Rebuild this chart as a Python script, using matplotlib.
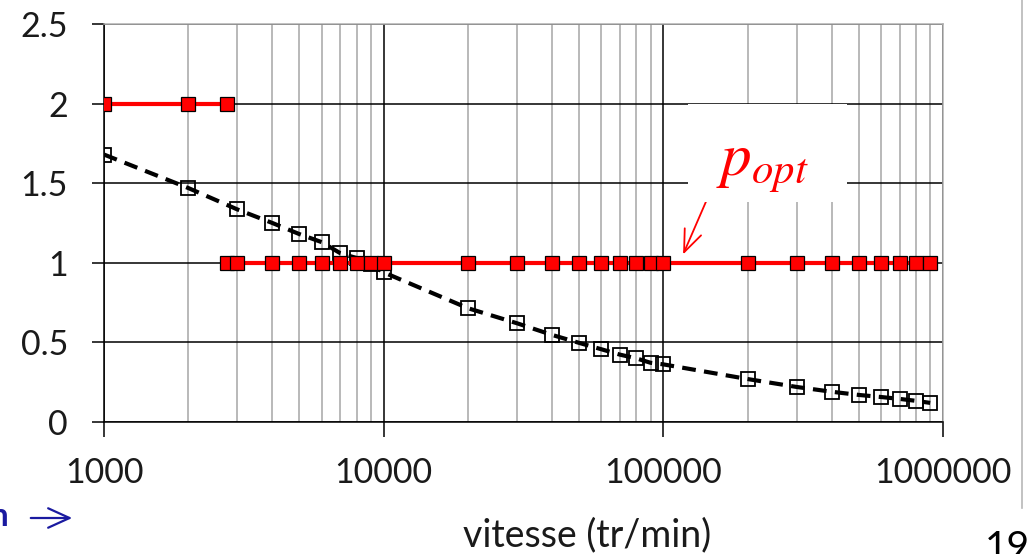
import matplotlib
matplotlib.use("Agg")
import matplotlib.pyplot as plt
from matplotlib.ticker import FixedLocator, NullFormatter, LogLocator
from matplotlib.patches import Rectangle
from matplotlib.lines import Line2D

# data
red_x_high = [1000, 2000, 2750]
red_y_high = [2, 2, 2]
red_x_low = [2750, 3000, 4000, 5000, 6000, 7000, 8000, 9000, 10000,
             20000, 30000, 40000, 50000, 60000, 70000, 80000, 90000, 100000,
             200000, 300000, 400000, 500000, 600000, 700000, 800000, 900000]
red_y_low = [1] * len(red_x_low)

speed = [1000, 2000, 3000, 4000, 5000, 6000, 7000, 8000, 9000, 10000,
         20000, 30000, 40000, 50000, 60000, 70000, 80000, 90000, 100000,
         200000, 300000, 400000, 500000, 600000, 700000, 800000, 900000]
ratio = [1.68, 1.47, 1.335, 1.25, 1.18, 1.13, 1.06, 1.03, 0.99, 0.94,
         0.715, 0.62, 0.547, 0.497, 0.457, 0.423, 0.40, 0.372, 0.362,
         0.27, 0.22, 0.19, 0.17, 0.157, 0.145, 0.133, 0.12]

x_ticks = [1000, 10000, 100000, 1000000]
x_labels = ["1000", "10000", "100000", "1000000"]
y_ticks = [0, 0.5, 1, 1.5, 2, 2.5]
y_labels = ["0", "0.5", "1", "1.5", "2", "2.5"]

W, H = 1028, 554
plt.rcParams["font.family"] = ["Lato", "DejaVu Sans"]
plt.rcParams["mathtext.fontset"] = "stix"

fig = plt.figure(figsize=(W / 100, H / 100), dpi=100)
ax = fig.add_axes([104 / W, (H - 422) / H, (943 - 104) / W, (422 - 24) / H])

ax.set_xscale("log")
ax.set_xlim(1000, 1000000)
ax.set_ylim(0, 2.5)

ax.xaxis.set_major_locator(FixedLocator(x_ticks))
ax.xaxis.set_minor_locator(LogLocator(base=10, subs=range(2, 10)))
ax.xaxis.set_minor_formatter(NullFormatter())
ax.set_xticks(x_ticks)
ax.set_xticklabels(x_labels)
ax.set_yticks(y_ticks)
ax.set_yticklabels(y_labels)

ax.grid(True, which="major", axis="both", color="black", lw=1.1, zorder=0)
ax.grid(True, which="minor", axis="x", color="#a6a6a6", lw=1.1, zorder=0)
ax.set_axisbelow(True)

ax.tick_params(axis="x", which="major", direction="out", length=11, width=1.1,
               pad=14, labelsize=24.5, labelcolor="#1a1a1a")
ax.tick_params(axis="x", which="minor", length=0)
ax.tick_params(axis="y", direction="out", length=9, width=1.1, pad=17,
               labelsize=24.5, labelcolor="#1a1a1a")

for side in ["top", "right"]:
    ax.spines[side].set_color("#b0b0b0")
    ax.spines[side].set_linewidth(1.1)
ax.spines["left"].set_linewidth(1.1)
ax.spines["bottom"].set_linewidth(1.1)

ax.plot(speed, ratio, ls=(0, (3.3, 2.0)), color="black", lw=3,
        marker="s", ms=10, mfc="none", mec="black", mew=1.3, zorder=3)
ax.plot(red_x_high, red_y_high, color="red", lw=3, marker="s", ms=9.5,
        mfc="red", mec="black", mew=0.9, zorder=4)
ax.plot(red_x_low, red_y_low, color="red", lw=3, marker="s", ms=9.5,
        mfc="red", mec="black", mew=0.9, zorder=4)

# white label box for p_opt (hides the grid behind it)
fig.patches.append(Rectangle((688 / W, (H - 202) / H), (847 - 688) / W, (202 - 104) / H,
                             transform=fig.transFigure, facecolor="white",
                             edgecolor="none", zorder=5))
fig.text(763 / W, (H - 166) / H, r"$p_{opt}$", color="red", fontsize=44,
         ha="center", va="center", zorder=6)
ax.annotate("", xy=(682 / W, (H - 257) / H), xycoords="figure fraction",
            xytext=(708 / W, (H - 197) / H), textcoords="figure fraction",
            arrowprops=dict(arrowstyle="->,head_length=1.0,head_width=0.4",
                            mutation_scale=16, color="red", lw=1.3), zorder=6)

fig.text(587 / W, (H - 535) / H, "vitesse (tr/min)", fontsize=27,
         color="#1a1a1a", ha="center", va="center")

# slide decorations around the chart
fig.text(9 / W, (H - 516) / H, "n", fontsize=24, fontweight="bold",
         color="#1a1aa0", ha="right", va="center")
ax.annotate("", xy=(75 / W, (H - 518) / H), xycoords="figure fraction",
            xytext=(28 / W, (H - 518) / H), textcoords="figure fraction",
            arrowprops=dict(arrowstyle="->,head_length=1.1,head_width=0.5",
                            mutation_scale=14, color="#1a1aa0", lw=1.6),
            annotation_clip=False)
fig.text(985 / W, (H - 530) / H, "19", fontsize=28, color="black",
         ha="left", va="top")
fig.lines.append(Line2D([1022 / W, 1022 / W], [1, (H - 508) / H],
                        transform=fig.transFigure, color="#b8b8b8", lw=1.2))

fig.savefig("out.png", dpi=100)
